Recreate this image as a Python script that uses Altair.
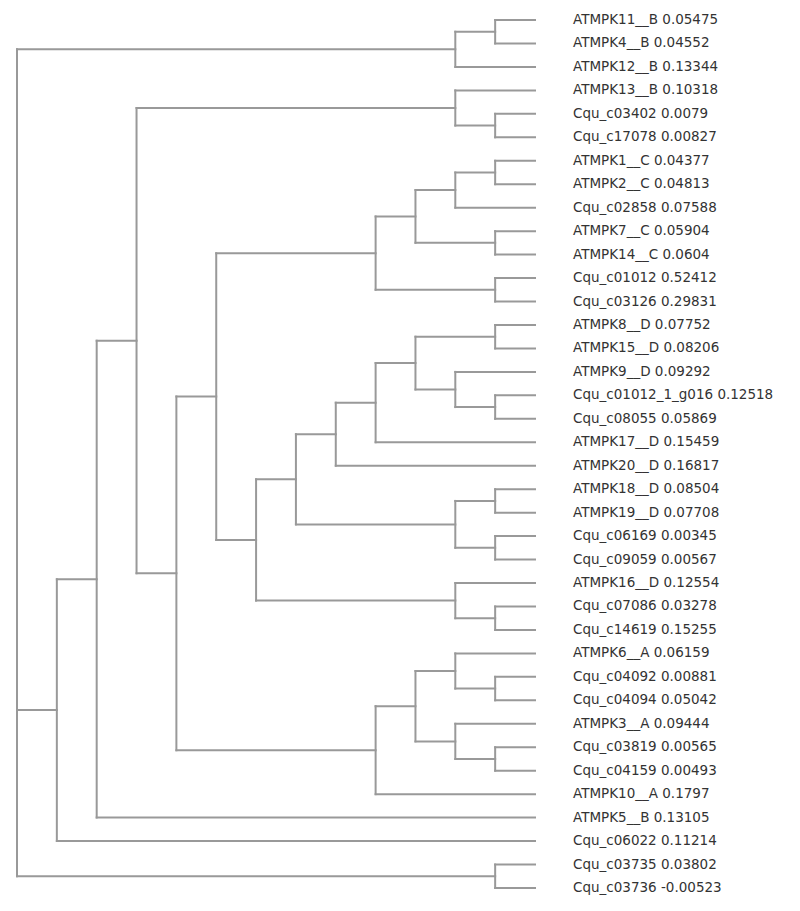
import altair as alt
import pandas as pd

# Leaf labels (top to bottom) and their values
leaf_names = [
    "ATMPK11__B", "ATMPK4__B", "ATMPK12__B", "ATMPK13__B", "Cqu_c03402",
    "Cqu_c17078", "ATMPK1__C", "ATMPK2__C", "Cqu_c02858", "ATMPK7__C",
    "ATMPK14__C", "Cqu_c01012", "Cqu_c03126", "ATMPK8__D", "ATMPK15__D",
    "ATMPK9__D", "Cqu_c01012_1_g016", "Cqu_c08055", "ATMPK17__D", "ATMPK20__D",
    "ATMPK18__D", "ATMPK19__D", "Cqu_c06169", "Cqu_c09059", "ATMPK16__D",
    "Cqu_c07086", "Cqu_c14619", "ATMPK6__A", "Cqu_c04092", "Cqu_c04094",
    "ATMPK3__A", "Cqu_c03819", "Cqu_c04159", "ATMPK10__A", "ATMPK5__B",
    "Cqu_c06022", "Cqu_c03735", "Cqu_c03736",
]
leaf_values = [
    0.05475, 0.04552, 0.13344, 0.10318, 0.0079,
    0.00827, 0.04377, 0.04813, 0.07588, 0.05904,
    0.0604, 0.52412, 0.29831, 0.07752, 0.08206,
    0.09292, 0.12518, 0.05869, 0.15459, 0.16817,
    0.08504, 0.07708, 0.00345, 0.00567, 0.12554,
    0.03278, 0.15255, 0.06159, 0.00881, 0.05042,
    0.09444, 0.00565, 0.00493, 0.1797, 0.13105,
    0.11214, 0.03802, -0.00523,
]

# Tree topology (leaf indices), nested clades
clade_B_top = [[0, 1], 2]
clade_B13 = [3, [4, 5]]
clade_C = [[[[6, 7], 8], [9, 10]], [11, 12]]
clade_D1 = [[[[[13, 14], [15, [16, 17]]], 18], 19], [[20, 21], [22, 23]]]
clade_D2 = [24, [25, 26]]
clade_A = [[[27, [28, 29]], [30, [31, 32]]], 33]
tree = [
    clade_B_top,
    [[[clade_B13, [[clade_C, [clade_D1, clade_D2]], clade_A]], 34], 35],
    [36, 37],
]

# ---- layout (cladogram aligned on leaves; x = node height) ----
segments = []


def layout(node):
    if isinstance(node, int):
        return 0, float(node)
    kids = [layout(c) for c in node]
    h = max(k[0] for k in kids) + 1
    y0, y1 = kids[0][1], kids[-1][1]
    segments.append({"x": h, "x2": h, "y": y0, "y2": y1})
    for kh, ky in kids:
        segments.append({"x": h, "x2": kh, "y": ky, "y2": ky})
    return h, (y0 + y1) / 2


root_h, _ = layout(tree)
seg_df = pd.DataFrame(segments)

leaf_df = pd.DataFrame({
    "x": [0] * len(leaf_names),
    "y": list(range(len(leaf_names))),
    "label": [f"{n} {v}" for n, v in zip(leaf_names, leaf_values)],
})

xscale = alt.Scale(domain=[0, root_h], range=[527, 9])
yscale = alt.Scale(domain=[0, len(leaf_names) - 1], range=[12, 880])

lines = alt.Chart(seg_df).mark_rule(
    color="#999999", strokeWidth=2, strokeCap="square"
).encode(
    x=alt.X("x:Q", scale=xscale, axis=None),
    x2="x2:Q",
    y=alt.Y("y:Q", scale=yscale, axis=None),
    y2="y2:Q",
)

labels = alt.Chart(leaf_df).mark_text(
    align="left", baseline="middle", dx=38, fontSize=13.5,
    font="DejaVu Sans", color="#333333"
).encode(
    x=alt.X("x:Q", scale=xscale, axis=None),
    y=alt.Y("y:Q", scale=yscale, axis=None),
    text="label:N",
)

chart = alt.layer(lines, labels).properties(
    width=784, height=895, padding=0, autosize="none"
).configure_view(stroke=None)

chart.save("out.html", embed_options={"renderer": "svg", "actions": False})
